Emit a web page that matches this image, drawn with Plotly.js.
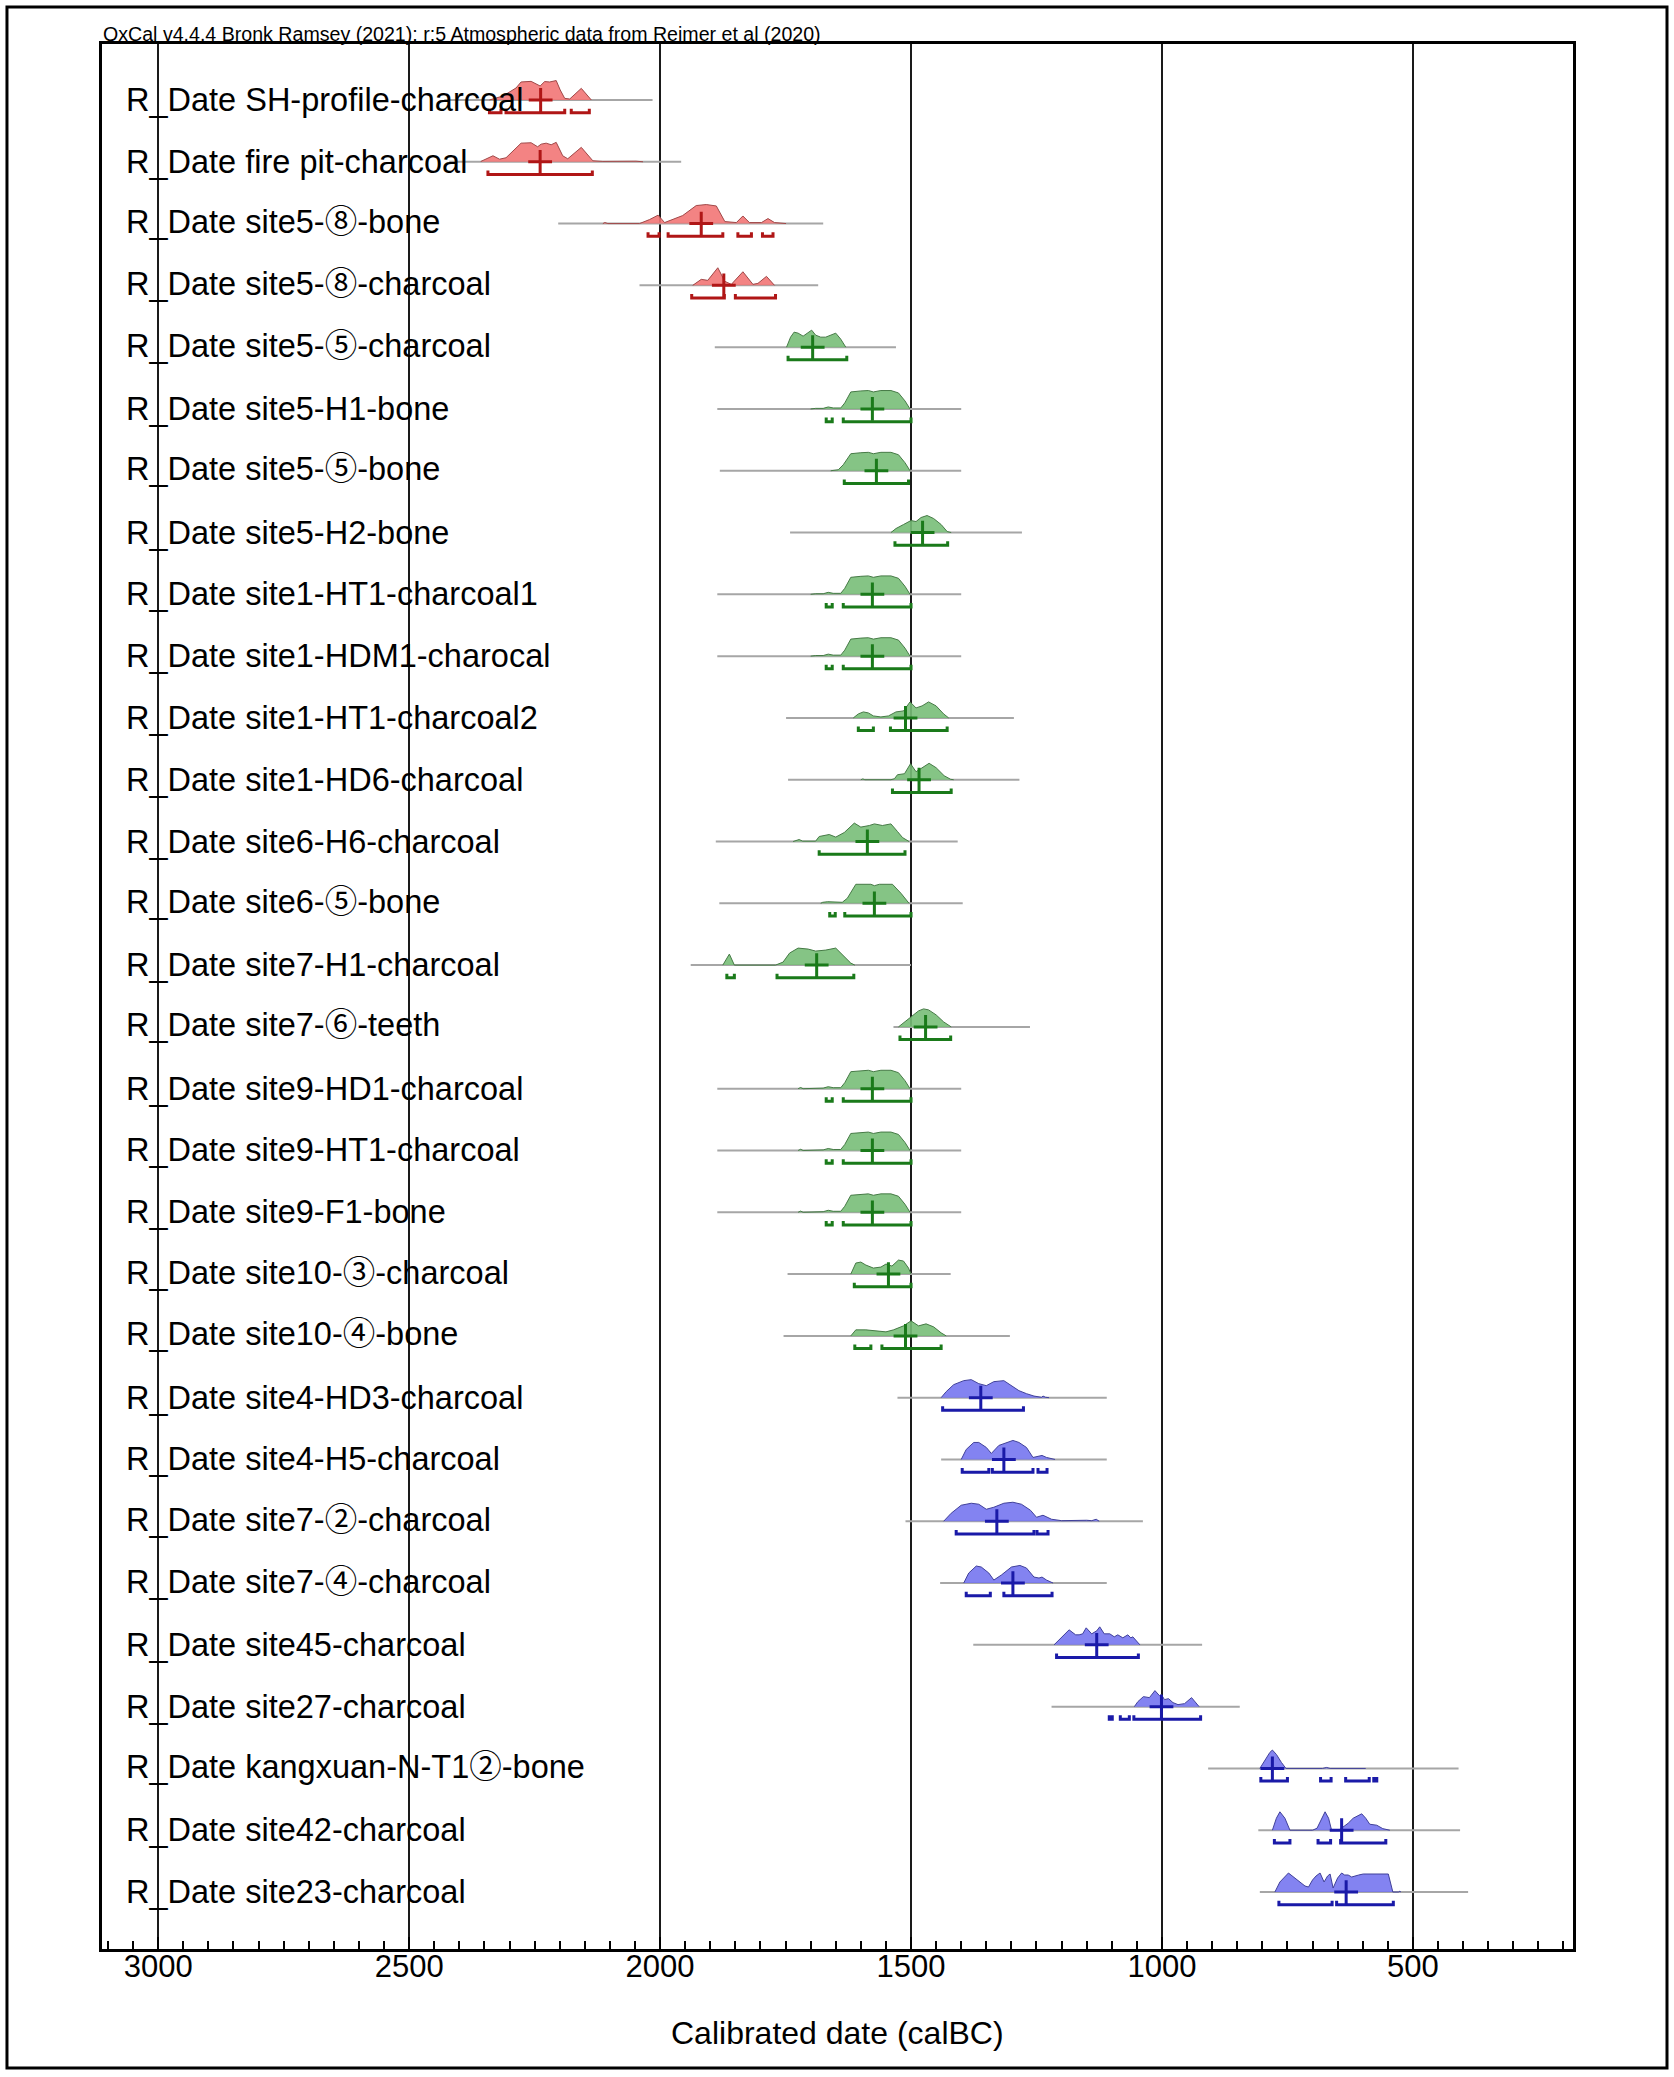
<!DOCTYPE html>
<html><head><meta charset="utf-8">
<script src="https://cdn.plot.ly/plotly-3.0.1.min.js"></script>
<style>body{margin:0;background:#fff}#chart{width:1674px;height:2077px}</style>
</head><body><div id="chart"></div>
<script>
const labels = [
  'R_Date SH-profile-charcoal','R_Date fire pit-charcoal','R_Date site5-⑧-bone','R_Date site5-⑧-charcoal',
  'R_Date site5-⑤-charcoal','R_Date site5-H1-bone','R_Date site5-⑤-bone','R_Date site5-H2-bone',
  'R_Date site1-HT1-charcoal1','R_Date site1-HDM1-charocal','R_Date site1-HT1-charcoal2','R_Date site1-HD6-charcoal',
  'R_Date site6-H6-charcoal','R_Date site6-⑤-bone','R_Date site7-H1-charcoal','R_Date site7-⑥-teeth',
  'R_Date site9-HD1-charcoal','R_Date site9-HT1-charcoal','R_Date site9-F1-bone','R_Date site10-③-charcoal',
  'R_Date site10-④-bone','R_Date site4-HD3-charcoal','R_Date site4-H5-charcoal','R_Date site7-②-charcoal',
  'R_Date site7-④-charcoal','R_Date site45-charcoal','R_Date site27-charcoal','R_Date kangxuan-N-T1②-bone',
  'R_Date site42-charcoal','R_Date site23-charcoal'
];
const phase = [0,0,0,0, 1,1,1,1,1,1,1,1,1,1,1,1,1,1,1,1,1, 2,2,2,2,2,2,2,2,2];
const lineStart = [2430,2420,2203,2041,1891,1886,1881,1741,1886,1886,1749,1745,1889,1882,1939,1535,1886,1886,1886,1746,1754,1527,1440,1511,1442,1376,1220,908,808,805];
const lineEnd   = [2015,1958,1675,1685,1530,1400,1400,1279,1400,1400,1295,1284,1407,1397,1500,1263,1400,1400,1400,1421,1303,1110,1110,1038,1110,920,845,409,406,390];
const medians   = [2238,2239,1918,1873,1696,1577,1569,1477,1577,1577,1511,1484,1587,1573,1688,1471,1577,1577,1577,1545,1511,1361,1315,1329,1297,1130,1001,780,642,633];
const ranges = [
  [[2340,2317],[2307,2190],[2177,2141]],
  [[2343,2135]],
  [[2024,2002],[1984,1875],[1845,1818],[1796,1775]],
  [[1937,1872],[1850,1770]],
  [[1745,1628]],
  [[1669,1657],[1635,1500]],
  [[1633,1505]],
  [[1532,1427]],
  [[1669,1657],[1635,1500]],
  [[1669,1657],[1635,1500]],
  [[1605,1575],[1541,1428]],
  [[1537,1420]],
  [[1683,1512]],
  [[1662,1651],[1632,1500]],
  [[1867,1852],[1767,1614]],
  [[1522,1421]],
  [[1669,1657],[1635,1500]],
  [[1669,1657],[1635,1500]],
  [[1669,1657],[1635,1500]],
  [[1613,1500]],
  [[1612,1580],[1558,1440]],
  [[1437,1276]],
  [[1398,1345],[1338,1257],[1247,1229]],
  [[1410,1255],[1249,1227]],
  [[1390,1342],[1315,1219]],
  [[1210,1047]],
  [[1105,1099],[1083,1065],[1056,923]],
  [[803,750],[684,663],[634,587],[578,572]],
  [[776,745],[689,664],[644,554]],
  [[767,661],[652,539]]
];
const distDates = [
  [2340,2313,2287,2277,2257,2246,2239,2230,2220,2207,2199,2190,2180,2157,2137],
  [2357,2333,2320,2307,2287,2277,2257,2244,2237,2227,2217,2207,2194,2184,2157,2134,2114,2087,2048,2034],
  [2114,2110,2104,2041,2021,2004,1991,1981,1955,1928,1908,1888,1871,1848,1835,1822,1798,1785,1772,1749],
  [1935,1918,1905,1885,1871,1858,1835,1815,1805,1788,1772],
  [1748,1740,1733,1725,1715,1707,1698,1690,1680,1670,1660,1650,1640,1630],
  [1700,1690,1675,1665,1655,1640,1632,1620,1600,1585,1575,1560,1540,1525,1512,1502],
  [1660,1645,1635,1620,1600,1585,1575,1560,1540,1525,1512,1502],
  [1540,1530,1515,1500,1490,1480,1468,1455,1440,1428,1420],
  [1700,1690,1675,1665,1655,1640,1632,1620,1600,1585,1575,1560,1540,1525,1512,1502],
  [1700,1690,1675,1665,1655,1640,1632,1620,1600,1585,1575,1560,1540,1525,1512,1502],
  [1615,1605,1595,1585,1575,1560,1545,1530,1515,1502,1490,1478,1465,1450,1435,1425],
  [1600,1596,1592,1540,1533,1527,1513,1501,1490,1477,1464,1450,1434,1421,1415],
  [1735,1723,1716,1690,1683,1663,1650,1633,1613,1600,1583,1573,1557,1540,1527,1517,1504],
  [1680,1676,1666,1653,1637,1627,1610,1580,1573,1563,1537,1520,1504],
  [1875,1862,1852,1770,1755,1742,1725,1705,1690,1670,1650,1635,1620,1612],
  [1525,1510,1495,1485,1475,1465,1450,1435,1420],
  [1725,1720,1715,1700,1690,1675,1665,1655,1640,1632,1620,1600,1585,1575,1560,1540,1525,1512,1502],
  [1725,1720,1715,1700,1690,1675,1665,1655,1640,1632,1620,1600,1585,1575,1560,1540,1525,1512,1502],
  [1725,1720,1715,1700,1690,1675,1665,1655,1640,1632,1620,1600,1585,1575,1560,1540,1525,1512,1502],
  [1620,1610,1600,1590,1575,1560,1550,1538,1525,1515,1505,1500],
  [1620,1610,1590,1570,1550,1535,1515,1500,1485,1470,1455,1440,1430],
  [1440,1430,1415,1395,1380,1365,1350,1335,1315,1300,1285,1270,1255,1240,1237,1232,1225],
  [1400,1390,1375,1365,1350,1340,1325,1310,1297,1285,1270,1257,1245,1239,1230,1213],
  [1435,1420,1400,1380,1365,1350,1335,1315,1297,1280,1262,1250,1237,1220,1200,1180,1165,1150,1140,1131,1125],
  [1395,1385,1370,1360,1345,1335,1320,1300,1283,1270,1255,1245,1239,1230,1217],
  [1215,1200,1185,1172,1165,1158,1151,1140,1130,1124,1115,1104,1095,1088,1078,1068,1062,1058,1044],
  [1055,1048,1037,1025,1014,1005,1001,995,987,978,968,955,941,930,926],
  [805,795,785,780,772,762,753,680,672,665,610,602,594],
  [780,772,765,755,745,740,700,691,682,675,668,662,650,645,637,629,619,610,602,594,586,572,560,546],
  [775,765,748,730,715,708,700,693,685,677,670,665,659,650,642,636,629,622,616,608,599,590,570,549,540,528,526,524]
];
const distDens = [
  [0,0.2,0.6,0.9,0.93,0.8,0.7,0.92,0.9,0.97,0.5,0.08,0.05,0.58,0],
  [0.02,0.3,0.13,0.2,0.7,0.93,0.95,0.75,0.88,0.93,0.85,0.97,0.3,0.15,0.72,0.05,0.02,0.03,0.03,0],
  [0,0.05,0,0,0.2,0.42,0.05,0.15,0.4,0.9,0.95,0.88,0.1,0.05,0.38,0.05,0.05,0.25,0.05,0],
  [0,0.3,0.25,0.88,0.2,0.05,0.68,0.05,0.1,0.45,0],
  [0,0.5,0.75,0.7,0.55,0.7,0.85,0.6,0.5,0.5,0.6,0.7,0.4,0],
  [0,0.03,0.03,0.1,0.05,0.05,0.3,0.85,0.9,0.92,0.85,0.92,0.92,0.8,0.4,0.02],
  [0,0.05,0.3,0.85,0.9,0.92,0.85,0.92,0.92,0.8,0.4,0.02],
  [0,0.2,0.4,0.6,0.55,0.75,0.85,0.7,0.4,0.05,0],
  [0,0.03,0.03,0.1,0.05,0.05,0.3,0.85,0.9,0.92,0.85,0.92,0.92,0.8,0.4,0.02],
  [0,0.03,0.03,0.1,0.05,0.05,0.3,0.85,0.9,0.92,0.85,0.92,0.92,0.8,0.4,0.02],
  [0,0.2,0.3,0.25,0.1,0.05,0.1,0.3,0.35,0.8,0.5,0.6,0.8,0.6,0.2,0],
  [0,0.04,0,0,0.05,0.25,0.3,0.8,0.4,0.6,0.82,0.6,0.2,0.02,0],
  [0,0.1,0.02,0.02,0.25,0.35,0.22,0.45,0.92,0.72,0.8,0.88,0.8,0.88,0.5,0.2,0],
  [0,0.05,0.08,0.05,0.05,0.25,0.95,0.95,0.88,0.95,0.95,0.5,0.02],
  [0,0.55,0,0,0.15,0.6,0.85,0.8,0.7,0.75,0.85,0.5,0.1,0],
  [0,0.3,0.6,0.8,0.9,0.85,0.6,0.25,0],
  [0,0.06,0,0,0.03,0.03,0.1,0.05,0.05,0.3,0.85,0.9,0.92,0.85,0.92,0.92,0.8,0.4,0.02],
  [0,0.06,0,0,0.03,0.03,0.1,0.05,0.05,0.3,0.85,0.9,0.92,0.85,0.92,0.92,0.8,0.4,0.02],
  [0,0.06,0,0,0.03,0.03,0.1,0.05,0.05,0.3,0.85,0.9,0.92,0.85,0.92,0.92,0.8,0.4,0.02],
  [0,0.55,0.6,0.45,0.3,0.35,0.5,0.4,0.7,0.65,0.3,0],
  [0,0.3,0.3,0.25,0.2,0.3,0.5,0.75,0.5,0.6,0.45,0.15,0],
  [0,0.3,0.65,0.85,0.9,0.7,0.6,0.8,0.85,0.6,0.35,0.2,0.08,0.02,0.08,0.02,0],
  [0,0.5,0.85,0.85,0.6,0.3,0.7,0.85,0.95,0.85,0.6,0.1,0.15,0.2,0.1,0],
  [0,0.4,0.8,0.9,0.85,0.6,0.7,0.9,0.95,0.85,0.55,0.2,0.3,0.1,0.03,0.05,0.03,0.05,0.03,0.1,0],
  [0,0.5,0.85,0.8,0.5,0.15,0.4,0.8,0.88,0.75,0.3,0.25,0.3,0.15,0],
  [0,0.4,0.75,0.5,0.5,0.55,0.85,0.55,0.7,0.9,0.55,0.55,0.4,0.5,0.35,0.5,0.35,0.4,0],
  [0,0.25,0.5,0.45,0.8,0.55,0.6,0.35,0.4,0.2,0.1,0.15,0.45,0.1,0],
  [0,0.4,0.8,0.92,0.7,0.3,0,0,0.05,0,0,0.03,0],
  [0,0.6,0.92,0.6,0,0,0,0.1,0.6,0.92,0.6,0,0,0.05,0.2,0.35,0.6,0.7,0.82,0.6,0.3,0.25,0.08,0],
  [0,0.5,0.95,0.6,0.3,0.25,0.6,0.8,0.95,0.5,0.8,0.9,0.2,0.7,0.95,0.85,0.85,0.75,0.8,0.85,0.9,0.9,0.9,0.9,0,0,0.05,0]
];
const xTicks = [3000,2500,2000,1500,1000,500];
const headerText = 'OxCal v4.4.4 Bronk Ramsey (2021); r:5 Atmospheric data from Reimer et al (2020)';
const xTitle = 'Calibrated date (calBC)';

// styles
const FILL = ['rgba(242,118,118,0.9)','rgba(120,190,120,0.9)','rgba(118,118,240,0.9)'];
const EDGE = ['#a04848','#467a46','#40409a'];
const DARK = ['#b01616','#1a7a1a','#1a1aa8'];
const FONT = 'Arial, "Liberation Sans", "DejaVu Sans", sans-serif';
const CIRCLE_FONT = "'Noto Sans CJK SC'";
const PEAK = 0.324, BR_Y = 0.205, BR_T = 0.14;

const traces = [];
labels.forEach((lab, i) => {
  const p = phase[i];
  traces.push({type:'scatter', mode:'lines', x:[lineStart[i], lineEnd[i]], y:[i, i],
    line:{color:'#a6a6a6', width:2}, hoverinfo:'skip', showlegend:false});
  const xs = distDates[i], ds = distDens[i];
  traces.push({type:'scatter', mode:'lines', x:[xs[0], ...xs, xs[xs.length-1]],
    y:[i, ...ds.map(d => i - d*PEAK), i], fill:'toself', fillcolor:FILL[p],
    line:{color:EDGE[p], width:1}, hoverinfo:'skip', showlegend:false});
  const bx = [], by = [];
  ranges[i].forEach(([a, b]) => { bx.push(a, a, b, b, null); by.push(i+BR_T, i+BR_Y, i+BR_Y, i+BR_T, null); });
  traces.push({type:'scatter', mode:'lines', x:bx, y:by, line:{color:DARK[p], width:3},
    hoverinfo:'skip', showlegend:false, connectgaps:false});
  traces.push({type:'scatter', mode:'markers', x:[medians[i]], y:[i],
    marker:{symbol:'cross-thin', size:17, line:{color:DARK[p], width:3}},
    hoverinfo:'skip', showlegend:false});
});

const CIRC = /[\u2460-\u2473]/g;
const fmtLabel = s => s.replace(CIRC, m => `<span style="font-family:${CIRCLE_FONT}">${m}</span>`);
const annotations = labels.map((lab, i) => ({
  text: fmtLabel(lab), x: 0.015, xref:'paper', y: i, yref:'y', xanchor:'left', yanchor:'middle',
  yshift: /[\u2460-\u2473]/.test(lab) ? 5 : 0,
  showarrow:false, font:{family:FONT, size:32.5, color:'#000'}
}));
annotations.push({text: headerText, x:-0.001, xref:'paper', y:1.0, yref:'paper', xanchor:'left', yanchor:'bottom', yshift:-3,
  showarrow:false, font:{family:FONT, size:19.6, color:'#000'}});
annotations.push({text: xTitle, x:0.5, xref:'paper', y:-0.0441, yref:'paper', xanchor:'center', yanchor:'middle',
  showarrow:false, font:{family:FONT, size:32, color:'#000'}});

const layout = {
  width:1674, height:2077,
  margin:{l:102, r:101, t:44, b:128},
  paper_bgcolor:'#fff', plot_bgcolor:'#fff',
  showlegend:false,
  font:{family:FONT, color:'#000'},
  xaxis:{
    range:[3112, 181], tickmode:'array', tickvals:xTicks, ticktext:xTicks.map(String),
    showgrid:true, gridcolor:'#1a1a1a', gridwidth:2, zeroline:false,
    ticks:'inside', ticklen:12, tickwidth:2, tickcolor:'#000', ticklabelstandoff:-12,
    minor:{tickmode:'linear', tick0:0, dtick:50, ticks:'inside', ticklen:8, tickwidth:2, tickcolor:'#000', showgrid:false},
    showline:true, linewidth:3, linecolor:'#000', mirror:true,
    tickfont:{family:FONT, size:31, color:'#000'}
  },
  yaxis:{
    range:[29.922, -0.906], showgrid:false, zeroline:false, showticklabels:false, ticks:'',
    showline:true, linewidth:3, linecolor:'#000', mirror:true
  },
  annotations: annotations,
  shapes:[{type:'rect', xref:'paper', yref:'paper', x0:-0.0646, x1:1.0639, y0:-0.06247, y1:1.01942,
    line:{color:'#000', width:3}, fillcolor:'rgba(0,0,0,0)', layer:'above'}]
};

Plotly.newPlot('chart', traces, layout, {staticPlot:true, displayModeBar:false});
</script>
</body></html>
